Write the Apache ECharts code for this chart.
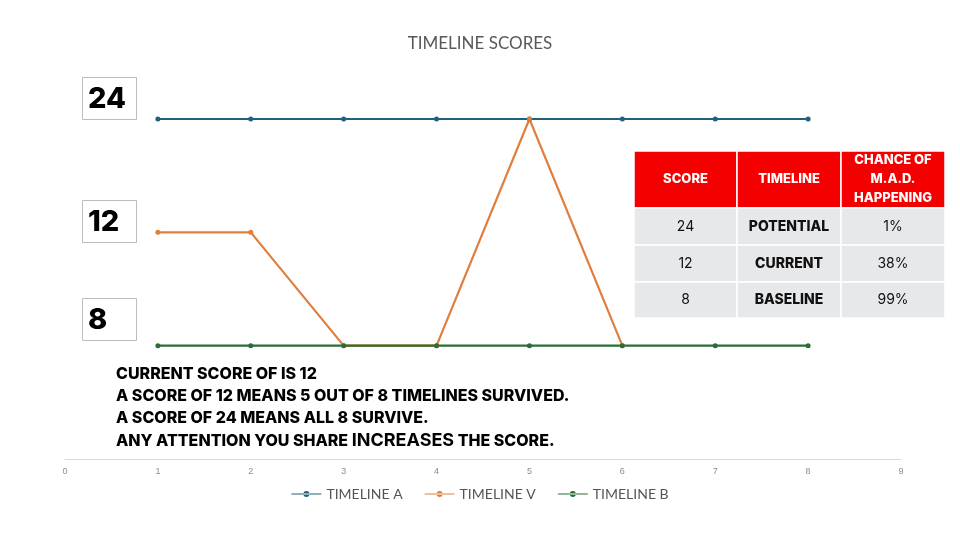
<!DOCTYPE html>
<html><head><meta charset="utf-8">
<script src="https://cdn.jsdelivr.net/npm/echarts@6/dist/echarts.min.js"></script>
<style>html,body{margin:0;padding:0;background:#fff}#c{width:960px;height:540px}</style>
</head><body><div id="c"></div>
<script>
const xTicks = [0,1,2,3,4,5,6,7,8,9];
const scoreLevels = ['', '8', '12', '24'];
const seriesNames = ['TIMELINE A', 'TIMELINE V', 'TIMELINE B'];
const timelineA = ['24','24','24','24','24','24','24','24'];
const timelineV = ['12','12','8','8','24','8'];
const timelineB = ['8','8','8','8','8','8','8','8'];
const colors = ['#24607c', '#e07e3c', '#2b6e35'];
const tableHeader = ['SCORE', 'TIMELINE', 'CHANCE OF\nM.A.D.\nHAPPENING'];
const tableRows = [['24','POTENTIAL','1%'],['12','CURRENT','38%'],['8','BASELINE','99%']];
const notes = ['CURRENT SCORE OF IS 12','A SCORE OF 12 MEANS 5 OUT OF 8 TIMELINES SURVIVED.','A SCORE OF 24 MEANS ALL 8 SURVIVE.'];

const chart = echarts.init(document.getElementById('c'));
const toPairs = arr => arr.map((v,i)=>[i+1, v]);
const heavy = '"Inter", "Liberation Sans", sans-serif';

const graphic = [];
const boxTops = {'24':77, '12':200, '8':298};
['24','12','8'].forEach(s=>{
  graphic.push({type:'rect', left:82, top:boxTops[s], shape:{width:54, height:42}, style:{fill:'#fff', stroke:'#bdbdbd', lineWidth:1}});
  graphic.push({type:'text', x:88, y:boxTops[s]+22, style:{text:s, verticalAlign:'middle', font:'800 29px ' + heavy, fill:'#000'}});
});
const colX = [634, 737, 841, 945];
const rowY = [151, 208, 245, 282, 318];
for (let c=0;c<3;c++){
  graphic.push({type:'rect', shape:{x:colX[c], y:rowY[0], width:colX[c+1]-colX[c], height:rowY[1]-rowY[0]}, style:{fill:'#f50000', stroke:'#fff', lineWidth:1.5}});
  graphic.push({type:'text', x:(colX[c]+colX[c+1])/2, y:(rowY[0]+rowY[1])/2, style:{text:tableHeader[c], align:'center', verticalAlign:'middle', lineHeight:19, font:'800 13px ' + heavy, fill:'#fff'}});
  for (let r=0;r<3;r++){
    graphic.push({type:'rect', shape:{x:colX[c], y:rowY[r+1], width:colX[c+1]-colX[c], height:rowY[r+2]-rowY[r+1]}, style:{fill:'#e7e8ea', stroke:'#fff', lineWidth:1.5}});
    graphic.push({type:'text', x:(colX[c]+colX[c+1])/2, y:(rowY[r+1]+rowY[r+2])/2, style:{text:tableRows[r][c], align:'center', verticalAlign:'middle', font:(c===1?'800 ':'400 ')+'14px ' + heavy, fill:'#111'}});
  }
}
const noteY = [374, 396, 418];
notes.forEach((t,i)=>{
  graphic.push({type:'text', x:116, y:noteY[i], style:{text:t, verticalAlign:'middle', font:'800 16px ' + heavy, fill:'#000'}});
});
graphic.push({type:'text', x:116, y:441, style:{
  text:'{a|ANY ATTENTION YOU SHARE }{b|INCREASES}{a| THE SCORE.}', verticalAlign:'middle',
  rich:{a:{font:'800 16px ' + heavy, fill:'#000'}, b:{font:'700 18px ' + heavy, fill:'#000'}}
}});

chart.setOption({
  animation:false,
  title:{text:'TIMELINE SCORES', left:'center', top:30, textStyle:{fontSize:17, fontWeight:'normal', color:'#595959', fontFamily:'Lato, sans-serif'}},
  color: colors,
  legend:{bottom:34, left:'center', itemGap:22, itemWidth:30, itemHeight:10, textStyle:{fontSize:14, color:'#555', fontFamily:'Lato, sans-serif'},
    icon:'path://M0,4.5 L30,4.5 L30,5.5 L0,5.5 Z M12,5 A3,3 0 1 0 18,5 A3,3 0 1 0 12,5 Z', data:seriesNames},
  grid:{left:65, right:59, top:119, bottom:81, containLabel:false},
  xAxis:{type:'value', min:0, max:9, interval:1, axisLine:{show:true, lineStyle:{color:'#d9d9d9'}}, axisTick:{show:false}, splitLine:{show:false},
    axisLabel:{fontSize:9, color:'#8c8c8c', margin:8}},
  yAxis:{type:'category', data:scoreLevels, boundaryGap:false, show:false},
  series:[
    {name:seriesNames[0], type:'line', data:toPairs(timelineA), symbol:'circle', symbolSize:5, lineStyle:{width:2.2}, clip:false},
    {name:seriesNames[1], type:'line', data:toPairs(timelineV), symbol:'circle', symbolSize:5, lineStyle:{width:2.2}, clip:false},
    {name:seriesNames[2], type:'line', data:toPairs(timelineB), symbol:'circle', symbolSize:5, lineStyle:{width:2.2}, clip:false}
  ],
  graphic: graphic
});
</script></body></html>
